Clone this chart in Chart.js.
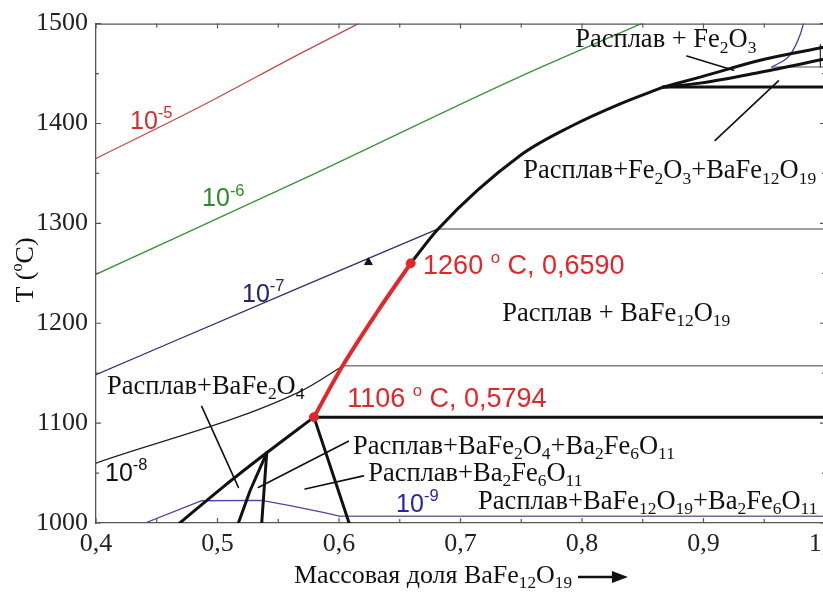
<!DOCTYPE html>
<html>
<head>
<meta charset="utf-8">
<script src="https://cdn.jsdelivr.net/npm/chart.js@4.4.0/dist/chart.umd.min.js"></script>
<style>
    html, body { margin: 0; padding: 0; background: #fff; overflow: hidden; }
    #wrap { width: 823px; height: 594px; overflow: hidden; }
</style>
</head>
<body>
<div id="wrap"><canvas id="phaseChart" width="850" height="594"></canvas></div>
<script>
/* ================= DATA (mass fraction BaFe12O19, T in °C) ================= */
const xTicks = [0.4, 0.5, 0.6, 0.7, 0.8, 0.9, 1.0];
const yTicks = [1000, 1100, 1200, 1300, 1400, 1500];

// oxygen partial pressure isobars
const isobar5 = [[0.400, 1365], [0.486, 1417], [0.568, 1470], [0.616, 1500]];
const isobar6 = [[0.400, 1249], [0.568, 1343], [0.749, 1447], [0.849, 1500]];
const isobar7 = [[0.400, 1148.5], [0.568, 1236], [0.6816, 1294.4]];
const isobar7Flat = [[0.6816, 1294.4], [1.0, 1294.4]];
const isobar8 = [[0.400, 1060], [0.568, 1131.6], [0.6034, 1157.4]];
const isobar8Flat = [[0.6034, 1157.4], [1.0, 1157.4]];
const isobar9 = [[0.4403, 1000], [0.487, 1022.3], [0.5364, 1022.6], [0.5597, 1017.4], [0.5869, 1010.7], [0.6004, 1006.8]];
const isobar9Flat = [[0.6004, 1006.8], [1.0, 1006.8]];
const isobarTop = [[0.9563, 1456.6], [0.9714, 1469], [0.9796, 1489], [0.9823, 1500]];
const isobarTopFlat = [[0.9563, 1456.6], [1.0, 1456.6]];

// phase boundaries
const liquidusLow = [[0.469, 1000], [0.5045, 1036], [0.5405, 1070.3], [0.5794, 1106]];
const liquidusRed = [[0.5794, 1106], [0.6025, 1156.4], [0.6313, 1211], [0.6590, 1260]];
const liquidusHigh = [[0.6590, 1260], [0.6816, 1294.4], [0.7491, 1367.9], [0.7903, 1396.7], [0.8314, 1419.6], [0.8668, 1436.4]];
const fe2o3Upper = [[0.8668, 1436.4], [0.8973, 1446.4], [0.9467, 1463.3], [1.0, 1476.5]];
const fe2o3Lower = [[0.8668, 1436.4], [0.8973, 1440.4], [0.9467, 1451.3], [1.0, 1464.5]];
const solidus1106 = [[0.5794, 1106], [1.0, 1106]];
const solidus1436 = [[0.8668, 1436.4], [1.0, 1436.4]];
const eutecticLeft = [[0.5405, 1070.3], [0.5268, 1032.3], [0.5172, 1000]];
const eutecticVert = [[0.5405, 1070.3], [0.5364, 1000]];
const ba2fe6Right = [[0.5794, 1106], [0.6083, 1000]];
const edgeLine = [[0.9962, 1456.6], [0.9962, 1479]];

// leader lines of the region labels
const leaderBaFe2O4 = [[0.487, 1116.7], [0.5172, 1035.6]];
const leaderThree = [[0.6077, 1081.9], [0.5336, 1035.6]];
const leaderBa2Fe6 = [[0.6201, 1047.2], [0.5721, 1034]];
const leaderFe2O3 = [[0.8863, 1467.5], [0.9248, 1453.3]];
const leaderFe2O3Ba = [[0.9096, 1383.1], [0.9617, 1442.7]];

const keyPoints = [[0.5794, 1106], [0.6590, 1260]];
const triangle = [[0.6242, 1261]];

// labels: text, x, T (left / baseline)
const isobarLabels = [
    ["10^{-5}", 0.428, 1394.7, "#c83232"],
    ["10^{-6}", 0.4873, 1317.3, "#2a8a2a"],
    ["10^{-7}", 0.5202, 1221.5, "#22226e"],
    ["10^{-8}", 0.4074, 1042.2, "#111111"],
    ["10^{-9}", 0.647, 1011.4, "#2424b0"]
];
const pointLabels = [
    ["1260 ^{o} C, 0,6590", 0.6692, 1248.8],
    ["1106 ^{o} C, 0,5794", 0.6067, 1115.7]
];
const regionLabels = [
    ["Расплав + Fe_{2}O_{3}", 0.7944, 1476.2],
    ["Расплав+Fe_{2}O_{3}+BaFe_{12}O_{19}", 0.7516, 1345.1],
    ["Расплав + BaFe_{12}O_{19}", 0.7343, 1202.1],
    ["Расплав+BaFe_{2}O_{4}", 0.4091, 1129.6],
    ["Расплав+BaFe_{2}O_{4}+Ba_{2}Fe_{6}O_{11}", 0.6116, 1069.5],
    ["Расплав+Ba_{2}Fe_{6}O_{11}", 0.6240, 1042.5],
    ["Расплав+BaFe_{12}O_{19}+Ba_{2}Fe_{6}O_{11}", 0.7145, 1014.4]
];

const SERIF = "'Liberation Serif', 'Times New Roman', serif";
const SANS = "'Liberation Sans', Arial, sans-serif";

/* ================= HELPERS ================= */
function pts(arr) { return arr.map(([x, y]) => ({ x, y })); }

function line(arr, color, width, curved) {
    return {
        data: pts(arr),
        showLine: true,
        borderColor: color,
        borderWidth: width,
        pointRadius: 0,
        fill: false,
        tension: 0,
        cubicInterpolationMode: curved ? "monotone" : "default",
        borderCapStyle: "round",
        borderJoinStyle: "round"
    };
}

function richParts(str) {
    const parts = [];
    const re = /([_^])\{([^}]*)\}/g;
    let last = 0, m;
    while ((m = re.exec(str))) {
        if (m.index > last) parts.push({ t: str.slice(last, m.index), k: "" });
        parts.push({ t: m[2], k: m[1] });
        last = re.lastIndex;
    }
    if (last < str.length) parts.push({ t: str.slice(last), k: "" });
    return parts;
}

function richWidth(ctx, str, family, size, ratio) {
    let w = 0;
    for (const p of richParts(str)) {
        ctx.font = (p.k ? size * ratio : size) + "px " + family;
        w += ctx.measureText(p.t).width;
    }
    return w;
}

function drawRich(ctx, str, x, y, family, size, color, ratio) {
    ratio = ratio || 0.64;
    ctx.save();
    ctx.fillStyle = color;
    ctx.textAlign = "left";
    ctx.textBaseline = "alphabetic";
    let cx = x;
    for (const p of richParts(str)) {
        ctx.font = (p.k ? size * ratio : size) + "px " + family;
        const dy = p.k === "_" ? size * 0.2 : p.k === "^" ? -size * 0.42 : 0;
        ctx.fillText(p.t, cx, y + dy);
        cx += ctx.measureText(p.t).width;
    }
    ctx.restore();
    return cx - x;
}

/* ================= FRAME + INWARD TICKS ================= */
const framePlugin = {
    id: "frame",
    afterDraw(chart) {
        const { ctx, chartArea: a, scales: { x, y } } = chart;
        ctx.save();
        ctx.strokeStyle = "#555";
        ctx.lineWidth = 1.3;
        ctx.beginPath();
        ctx.moveTo(a.left, a.top + 0.5);
        ctx.lineTo(a.right, a.top + 0.5);
        ctx.stroke();

        ctx.lineWidth = 1.2;
        ctx.beginPath();
        for (let v = 0.4; v <= 1.0001; v += 0.05) {
            const px = x.getPixelForValue(v);
            const major = Math.abs(v * 10 - Math.round(v * 10)) < 1e-6;
            const len = major ? 5 : 4;
            ctx.moveTo(px, a.bottom); ctx.lineTo(px, a.bottom - len);
            ctx.moveTo(px, a.top); ctx.lineTo(px, a.top + len);
        }
        for (let v = 1000; v <= 1500; v += 50) {
            const py = y.getPixelForValue(v);
            const len = v % 100 === 0 ? 5 : 3;
            ctx.moveTo(a.left, py); ctx.lineTo(a.left + len, py);
            ctx.moveTo(a.right, py); ctx.lineTo(a.right - len, py);
        }
        ctx.stroke();
        ctx.restore();
    }
};

/* ================= TEXT ================= */
const textPlugin = {
    id: "texts",
    afterDraw(chart) {
        const { ctx, scales: { x, y } } = chart;

        isobarLabels.forEach(([t, vx, vy, c]) =>
            drawRich(ctx, t, x.getPixelForValue(vx), y.getPixelForValue(vy), SANS, 25, c, 0.66));

        pointLabels.forEach(([t, vx, vy]) =>
            drawRich(ctx, t, x.getPixelForValue(vx), y.getPixelForValue(vy), SANS, 27, "#e3262a", 0.62));

        regionLabels.forEach(([t, vx, vy]) =>
            drawRich(ctx, t, x.getPixelForValue(vx), y.getPixelForValue(vy), SERIF, 26.5, "#111", 0.66));

        // x axis title with arrow
        const w = drawRich(ctx, "Массовая доля BaFe_{12}O_{19}", 294, 583, SERIF, 26, "#111", 0.66);
        const ax = 294 + w + 6, ay = 577;
        ctx.save();
        ctx.strokeStyle = "#111";
        ctx.fillStyle = "#111";
        ctx.lineWidth = 2.5;
        ctx.beginPath();
        ctx.moveTo(ax, ay); ctx.lineTo(ax + 38, ay);
        ctx.stroke();
        ctx.beginPath();
        ctx.moveTo(ax + 50, ay); ctx.lineTo(ax + 34, ay - 6); ctx.lineTo(ax + 34, ay + 6);
        ctx.closePath();
        ctx.fill();
        ctx.restore();

        // y axis title
        ctx.save();
        ctx.translate(33, 270);
        ctx.rotate(-Math.PI / 2);
        const yw = richWidth(ctx, "T (^{o}C)", SERIF, 26, 0.62);
        drawRich(ctx, "T (^{o}C)", -yw / 2, 0, SERIF, 26, "#111", 0.62);
        ctx.restore();
    }
};

/* ================= CHART ================= */
const datasets = [
    {
        data: pts(triangle), showLine: false, pointStyle: "triangle",
        pointRadius: 4.5, backgroundColor: "#111", borderColor: "#111", borderWidth: 1
    },
    {
        data: pts(keyPoints), showLine: false, pointRadius: 4.5,
        backgroundColor: "#e3262a", borderColor: "#e3262a", borderWidth: 1
    },
    line(liquidusRed, "#e3262a", 4, true),
    line(liquidusLow, "#111", 3, true),
    line(liquidusHigh, "#111", 3, true),
    line(fe2o3Upper, "#111", 3, true),
    line(fe2o3Lower, "#111", 3, true),
    line(solidus1106, "#111", 3, false),
    line(solidus1436, "#111", 3, false),
    line(eutecticLeft, "#111", 3, false),
    line(eutecticVert, "#111", 3, false),
    line(ba2fe6Right, "#111", 3, false),
    line(edgeLine, "#333", 1.3, false),
    line(leaderBaFe2O4, "#111", 1.6, false),
    line(leaderThree, "#111", 1.6, false),
    line(leaderBa2Fe6, "#111", 1.6, false),
    line(leaderFe2O3, "#111", 1.6, false),
    line(leaderFe2O3Ba, "#111", 1.6, false),
    line(isobar5, "#c84848", 1.3, true),
    line(isobar6, "#3a923a", 1.3, true),
    line(isobar7, "#2e2e78", 1.3, true),
    line(isobar7Flat, "#808080", 1.6, false),
    line(isobar8, "#222", 1.3, true),
    line(isobar8Flat, "#808080", 1.6, false),
    line(isobar9, "#4848a8", 1.3, false),
    line(isobar9Flat, "#6c6c98", 1.6, false),
    line(isobarTop, "#4040a0", 1.3, true),
    line(isobarTopFlat, "#8a8a9a", 1.6, false)
];

new Chart(document.getElementById("phaseChart"), {
    type: "scatter",
    data: { datasets },
    options: {
        responsive: false,
        animation: false,
        layout: { padding: { top: 19, right: 25, left: 0, bottom: 0 } },
        plugins: { legend: { display: false }, tooltip: { enabled: false } },
        scales: {
            x: {
                type: "linear",
                min: xTicks[0],
                max: xTicks[xTicks.length - 1],
                grid: { display: false, drawTicks: false },
                border: { display: true, color: "#555", width: 1.3 },
                afterBuildTicks: s => { s.ticks = xTicks.map(v => ({ value: v })); },
                ticks: {
                    padding: 6,
                    color: "#222",
                    font: { family: SERIF, size: 26 },
                    callback: v => Number(v).toFixed(1).replace(".", ",")
                },
                afterFit: s => { s.height = 71; }
            },
            y: {
                type: "linear",
                min: yTicks[0],
                max: yTicks[yTicks.length - 1],
                grid: { display: false, drawTicks: false },
                border: { display: true, color: "#555", width: 1.3 },
                afterBuildTicks: s => { s.ticks = yTicks.map(v => ({ value: v })); },
                ticks: {
                    padding: 8,
                    color: "#222",
                    font: { family: SERIF, size: 26 },
                    callback: v => String(v)
                },
                afterFit: s => { s.width = 96; }
            }
        }
    },
    plugins: [framePlugin, textPlugin]
});
</script>
</body>
</html>
